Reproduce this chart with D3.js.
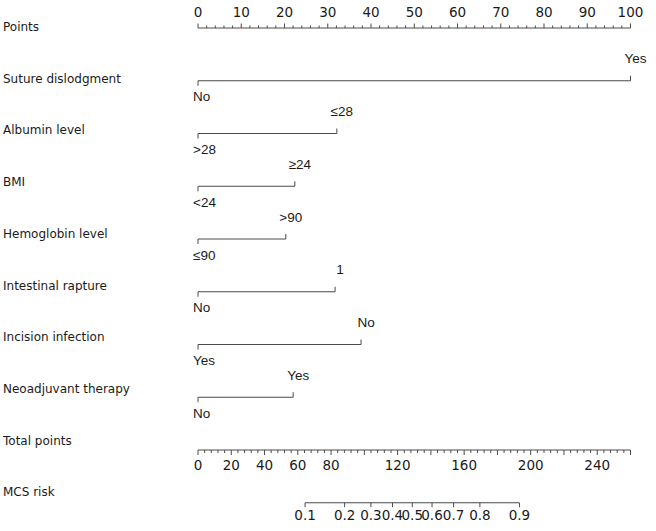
<!DOCTYPE html>
<html>
<head>
<meta charset="utf-8">
<script src="https://cdn.jsdelivr.net/npm/d3@7"></script>
<style>
  body { margin: 0; background: #fff; }
  svg text { fill: #1a1a1a; }
</style>
</head>
<body>
<div id="chart"></div>
<script>
// Row names (left column)
const rowNames = ["Points", "Suture dislodgment", "Albumin level", "BMI", "Hemoglobin level",
  "Intestinal rapture", "Incision infection", "Neoadjuvant therapy", "Total points", "MCS risk"];

// Predictor levels: reference level (0 points) and the other level
const levelLow = ["No", ">28", "<24", "≤90", "No", "Yes", "No"];
const levelHigh = ["Yes", "≤28", "≥24", ">90", "1", "No", "Yes"];
const levelPoints = [100, 32.1, 22.4, 20.3, 31.7, 37.7, 22.0];

// Axis ticks
const pointTicks = d3.range(0, 101, 10);
const pointMinor = d3.range(0, 101, 2);
const totalMax = 260;
const totalTicks = [0, 20, 40, 60, 80, 120, 160, 200, 240];
const totalMinor = d3.range(0, totalMax + 1, 4);
const riskTicks = [0.1, 0.2, 0.3, 0.4, 0.5, 0.6, 0.7, 0.8, 0.9];

// Logistic link: total points where risk = 0.5, and slope per point
const riskMid = 128.8, riskSlope = 0.0341;

const width = 656, height = 531;
const x0 = 198, x1 = 630.5;
const lineColor = "#4a4a4a";
const numFont = "DejaVu Sans";
const wordFont = "Liberation Sans";

const xPts = d3.scaleLinear().domain([0, 100]).range([x0, x1]);
const xTot = d3.scaleLinear().domain([0, totalMax]).range([x0, x1]);
const xRisk = p => xTot(riskMid + Math.log(p / (1 - p)) / riskSlope);

const lineY = i => 28 + 52.75 * i;
const labelY = i => 27 + 51.7 * i;

const svg = d3.select("#chart").append("svg")
  .attr("width", width).attr("height", height);

// Left labels
svg.selectAll("text.row")
  .data(rowNames)
  .join("text")
  .attr("class", "row")
  .attr("x", 3)
  .attr("y", (d, i) => labelY(i))
  .attr("dominant-baseline", "central")
  .style("font-family", "DejaVu Sans")
  .style("font-size", "12px")
  .text(d => d);

// --- Points axis (ticks up) ---
const gp = svg.append("g");
gp.append("line")
  .attr("x1", xPts(0)).attr("x2", xPts(100))
  .attr("y1", lineY(0)).attr("y2", lineY(0))
  .attr("stroke", lineColor);
gp.selectAll("line.tk")
  .data(pointMinor)
  .join("line")
  .attr("class", "tk")
  .attr("x1", d => xPts(d)).attr("x2", d => xPts(d))
  .attr("y1", lineY(0))
  .attr("y2", d => lineY(0) - (d % 10 === 0 ? 4.5 : 2.5))
  .attr("stroke", lineColor);
gp.selectAll("text")
  .data(pointTicks)
  .join("text")
  .attr("x", d => xPts(d))
  .attr("y", 16.5)
  .attr("text-anchor", "middle")
  .style("font-family", numFont)
  .style("font-size", "13.5px")
  .text(d => d);

// --- Predictor lines ---
levelPoints.forEach((pts, k) => {
  const i = k + 1;
  const y = lineY(i);
  const g = svg.append("g");
  g.append("line")
    .attr("x1", xPts(0)).attr("x2", xPts(pts))
    .attr("y1", y).attr("y2", y)
    .attr("stroke", lineColor);
  // left tick down, right tick up
  g.append("line")
    .attr("x1", xPts(0)).attr("x2", xPts(0))
    .attr("y1", y).attr("y2", y + 5)
    .attr("stroke", lineColor);
  g.append("line")
    .attr("x1", xPts(pts)).attr("x2", xPts(pts))
    .attr("y1", y).attr("y2", y - 5)
    .attr("stroke", lineColor);
  g.append("text")
    .attr("x", xPts(0) - 5)
    .attr("y", y + 16)
    .attr("dominant-baseline", "central")
    .style("font-family", wordFont)
    .style("font-size", "13.5px")
    .text(levelLow[k]);
  g.append("text")
    .attr("x", xPts(pts) + 5)
    .attr("y", y - 22)
    .attr("text-anchor", "middle")
    .attr("dominant-baseline", "central")
    .style("font-family", wordFont)
    .style("font-size", "13.5px")
    .text(levelHigh[k]);
});

// --- Total points axis (ticks down) ---
const yt = lineY(8);
const gt = svg.append("g");
gt.append("line")
  .attr("x1", xTot(0)).attr("x2", xTot(totalMax))
  .attr("y1", yt).attr("y2", yt)
  .attr("stroke", lineColor);
gt.selectAll("line.tk")
  .data(totalMinor)
  .join("line")
  .attr("class", "tk")
  .attr("x1", d => xTot(d)).attr("x2", d => xTot(d))
  .attr("y1", yt)
  .attr("y2", d => yt + (d % 20 === 0 ? 5 : 3))
  .attr("stroke", lineColor);
gt.selectAll("text")
  .data(totalTicks)
  .join("text")
  .attr("x", d => xTot(d))
  .attr("y", 470)
  .attr("text-anchor", "middle")
  .style("font-family", numFont)
  .style("font-size", "13.5px")
  .text(d => d);

// --- MCS risk axis (ticks down) ---
const yr = lineY(9);
const gr = svg.append("g");
gr.append("line")
  .attr("x1", xRisk(riskTicks[0])).attr("x2", xRisk(riskTicks[riskTicks.length - 1]))
  .attr("y1", yr).attr("y2", yr)
  .attr("stroke", lineColor);
gr.selectAll("line.tk")
  .data(riskTicks)
  .join("line")
  .attr("class", "tk")
  .attr("x1", d => xRisk(d)).attr("x2", d => xRisk(d))
  .attr("y1", yr).attr("y2", yr + 4.5)
  .attr("stroke", lineColor);
gr.selectAll("text")
  .data(riskTicks)
  .join("text")
  .attr("x", d => xRisk(d))
  .attr("y", 519.5)
  .attr("text-anchor", "middle")
  .style("font-family", numFont)
  .style("font-size", "13.5px")
  .text(d => d);
</script>
</body>
</html>
